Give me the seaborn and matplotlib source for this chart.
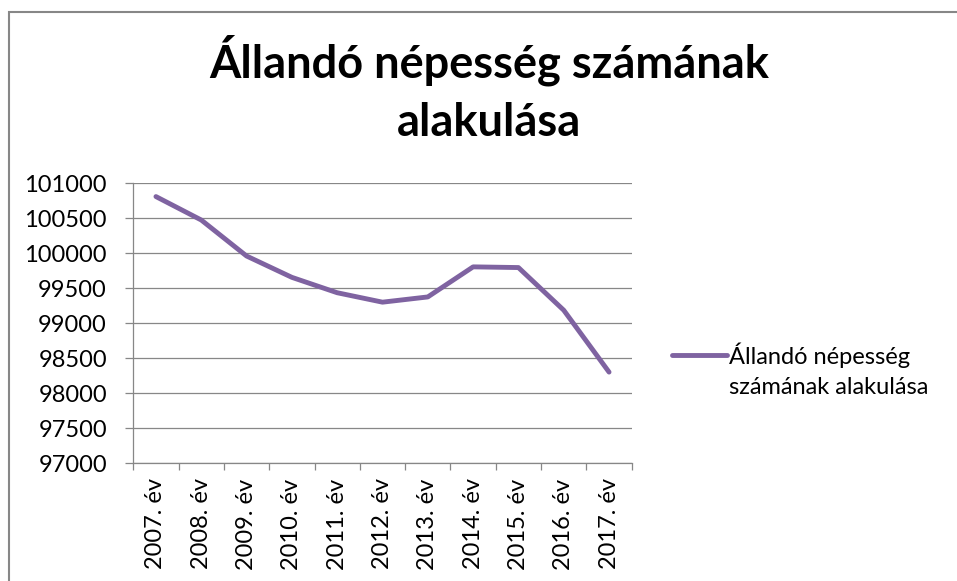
import pandas as pd
import matplotlib.pyplot as plt
import seaborn as sns
from matplotlib.patches import Rectangle

years = ["2007. év", "2008. év", "2009. év", "2010. év", "2011. év", "2012. év",
         "2013. év", "2014. év", "2015. év", "2016. év", "2017. év"]
population = [100810, 100475, 99960, 99655, 99435, 99300, 99375, 99805, 99795, 99185, 98300]
series_name = "Állandó népesség számának alakulása"

df = pd.DataFrame({"ev": years, "nepesseg": population})

sns.set_style("white")
plt.rcParams["font.family"] = ["Lato", "DejaVu Sans"]
plt.rcParams["text.color"] = "black"

grey = "#878787"
purple = "#7F63A1"
fs = 17

fig = plt.figure(figsize=(9.57, 5.81), dpi=100)
ax = fig.add_axes([133.3 / 957, 1 - 463 / 581, (631.7 - 133.3) / 957, (463 - 183.3) / 581])

sns.lineplot(data=df, x="ev", y="nepesseg", ax=ax, color=purple, linewidth=3.5,
             sort=False, solid_capstyle="round", solid_joinstyle="round")

ax.set_xlim(-0.5, len(years) - 0.5)
ax.set_ylim(97000, 101000)
ax.set_yticks(range(97000, 101001, 500))
ax.set_xticks(range(len(years)))
ax.set_xticklabels(years, rotation=90)
ax.set_xticks([i - 0.5 for i in range(len(years) + 1)], minor=True)
ax.set_xlabel("")
ax.set_ylabel("")

ax.grid(axis="y", color=grey, linewidth=0.9)
ax.set_axisbelow(True)
for s in ["top", "right"]:
    ax.spines[s].set_visible(False)
for s in ["left", "bottom"]:
    ax.spines[s].set_color(grey)
    ax.spines[s].set_linewidth(0.9)

ax.tick_params(axis="y", which="major", length=6, width=0.9, color=grey, pad=13,
               labelsize=fs, labelcolor="black", left=True)
ax.tick_params(axis="x", which="major", length=0, pad=11, labelsize=fs, labelcolor="black")
ax.tick_params(axis="x", which="minor", length=5, width=0.9, color=grey, bottom=True)

# legend: handle sits on first text line, like Excel
leg = ax.legend([ax.lines[0]], ["Állandó népesség"], loc="center left",
                bbox_to_anchor=(672 / 957, 1 - 355 / 581), bbox_transform=fig.transFigure,
                frameon=False, fontsize=fs, handlelength=2.33, handletextpad=0.1,
                borderpad=0, borderaxespad=0)
leg.get_texts()[0].set_color("black")
fig.text(729 / 957, 1 - 394 / 581, "számának alakulása", fontsize=fs,
         ha="left", va="baseline")

fig.text(489 / 957, 1 - 78 / 581, "Állandó népesség számának", fontsize=32.5,
         fontweight="bold", ha="center", va="baseline")
fig.text(489 / 957, 1 - 136 / 581, "alakulása", fontsize=32.5,
         fontweight="bold", ha="center", va="baseline")

fig.patches.append(Rectangle((9 / 957, -0.1), 1.0, (581 - 12) / 581 + 0.1,
                             transform=fig.transFigure, fill=False, edgecolor=grey,
                             linewidth=1.5))

fig.savefig("out.png", dpi=100)
